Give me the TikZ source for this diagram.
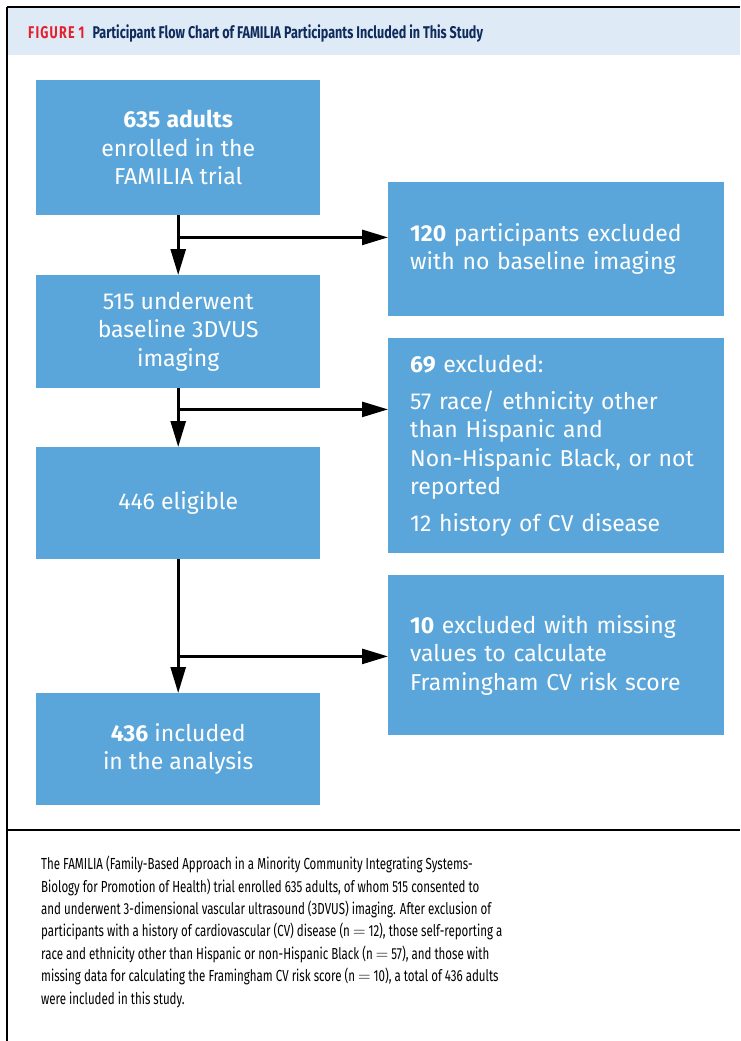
\documentclass[tikz,border=0pt]{standalone}
\usepackage{fontspec}
\setmainfont{Fira Sans}
\newfontfamily\capfont[FakeStretch=0.72]{Fira Sans}
\newfontfamily\titlefont[FakeStretch=0.74]{Fira Sans}
\usetikzlibrary{arrows.meta,calc}
\definecolor{boxblue}{HTML}{5AA5D9}
\definecolor{headband}{HTML}{DEEAF6}
\definecolor{navy}{HTML}{0E2B5C}
\definecolor{figred}{HTML}{E3202E}
\tikzset{
  fbox/.style={fill=boxblue, text=white, inner sep=0pt, anchor=north west,
    font=\fontsize{23}{28.5}\selectfont},
  cbox/.style={fbox, align=center},
  lbox/.style={fbox, align=left, inner xsep=22pt, text width=292pt, minimum width=336pt},
  arr/.style={line width=2.6pt, -{Triangle[length=26pt,width=15pt]}},
  frame/.style={line width=1.5pt, black}
}
\begin{document}
\begin{tikzpicture}[x=1pt,y=-1pt]
\useasboundingbox (0,0) rectangle (740,1041);
\fill[white] (0,0) rectangle (740,1041);
% header band and frame
\fill[headband] (7,7) rectangle (740,55);
\draw[frame] (7,7) -- (740,7);
\draw[frame] (7,7) -- (7,1041);
\draw[frame] (7,830) -- (740,830);
\node[anchor=base west, inner sep=0pt, font=\titlefont\fontsize{17}{20}\selectfont\bfseries] (title) at (28,39)
  {{\color{figred}F\hspace{1.2pt}I\hspace{1.2pt}G\hspace{1.2pt}U\hspace{1.2pt}R\hspace{1.2pt}E\hspace{4pt}1}\hspace{8pt}{\color{navy}Participant Flow Chart of FAMILIA Participants Included in This Study}};
% left column
\node[cbox, minimum width=284pt, minimum height=135pt] (b1) at (36,80)
  {\textbf{635} \textbf{adults}\\enrolled in the\\FAMILIA trial};
\node[cbox, minimum width=284pt, minimum height=113pt] (b2) at (36,275)
  {515 underwent\\baseline 3DVUS\\imaging};
\node[cbox, minimum width=284pt, minimum height=112pt] (b3) at (36,447)
  {446 eligible};
\node[cbox, minimum width=284pt, minimum height=112pt] (b4) at (36,693)
  {\textbf{436} included\\in the analysis};
% right column
\node[lbox, minimum height=134pt] (r1) at (388,182)
  {\textbf{120} participants excluded\\with no baseline imaging};
\node[lbox, minimum height=215pt] (r2) at (388,338)
  {\textbf{69} excluded:\\[8pt]57 race/ ethnicity other\\than Hispanic and\\Non-Hispanic Black, or not\\reported\\[8pt]12 history of CV disease};
\node[lbox, minimum height=160pt] (r3) at (388,575)
  {\textbf{10} excluded with missing\\values to calculate\\Framingham CV risk score};
% connectors
\coordinate (j1) at ($(b1.south)+(0,22)$);
\coordinate (j2) at ($(b2.south)+(0,21)$);
\coordinate (j3) at ($(b3.south)+(0,97)$);
\draw[arr] (b1.south) -- (b2.north);
\draw[arr] (j1) -- (j1 -| r1.west);
\draw[arr] (b2.south) -- (b3.north);
\draw[arr] (j2) -- (j2 -| r2.west);
\draw[arr] (b3.south) -- (b4.north);
\draw[arr] (j3) -- (j3 -| r3.west);
% caption
\node[anchor=north west, inner sep=0pt, align=left, text=black,
  font=\capfont\fontsize{16}{22.4}\selectfont] (cap) at (41,856)
  {The FAMILIA (Family-Based Approach in a Minority Community Integrating Systems-\\
  Biology for Promotion of Health) trial enrolled 635 adults, of whom 515 consented to\\
  and underwent 3-dimensional vascular ultrasound (3DVUS) imaging. After exclusion of\\
  participants with a history of cardiovascular (CV) disease (n $=$ 12), those self-reporting a\\
  race and ethnicity other than Hispanic or non-Hispanic Black (n $=$ 57), and those with\\
  missing data for calculating the Framingham CV risk score (n $=$ 10), a total of 436 adults\\
  were included in this study.};
\end{tikzpicture}
\end{document}
